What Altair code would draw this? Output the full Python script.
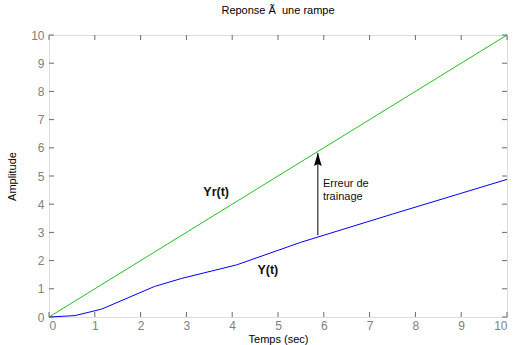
import altair as alt
import pandas as pd

# ---- data ----
ref_t = [0, 10]
ref_y = [0, 10]
resp_t = [0, 0.57, 1.15, 2.3, 2.9, 4.1, 5.5, 7.5, 10]
resp_y = [0, 0.05, 0.28, 1.08, 1.37, 1.85, 2.65, 3.65, 4.88]
tick_vals = [0, 1, 2, 3, 4, 5, 6, 7, 8, 9, 10]
arrow_x = [5.87]
arrow_y0 = [2.9]
arrow_y1 = [5.82]
labels_text = ["Yr(t)", "Y(t)"]
labels_x = [3.37, 4.55]
labels_y = [4.43, 1.66]
err_text = ["Erreur de\ntrainage"]
err_x = [5.98]
err_y = [4.6]

FONT = "Liberation Sans"
GRAY = "#808080"
FRAME = "#6a6a6a"
W, H = 458, 282

xs = alt.Scale(domain=[0, 10], nice=False)
ys = alt.Scale(domain=[0, 10], nice=False)

xax = alt.Axis(values=tick_vals, grid=False, domain=False, ticks=False,
               labelColor=GRAY, labelFontSize=12, labelFont=FONT, labelPadding=3,
               labelOverlap=False,
               title="Temps (sec)", titleFont=FONT, titleFontSize=11,
               titleFontWeight="normal", titleColor="#000",
               titleY=22, titleBaseline="middle")
yax = alt.Axis(values=tick_vals, grid=False, domain=False, ticks=False,
               labelColor=GRAY, labelFontSize=12, labelFont=FONT, labelPadding=5,
               labelOverlap=False,
               title="Amplitude", titleFont=FONT, titleFontSize=11,
               titleFontWeight="normal", titleColor="#000", titlePadding=13)


def X(f):
    return alt.X(f, scale=xs, axis=xax, title="Temps (sec)")


def Y(f):
    return alt.Y(f, scale=ys, axis=yax, title="Amplitude")


ref_df = pd.DataFrame({"t": ref_t, "y": ref_y})
resp_df = pd.DataFrame({"t": resp_t, "y": resp_y})
ticks_df = pd.DataFrame({"v": tick_vals})

ref_line = alt.Chart(ref_df).mark_line(color="#20c020", strokeWidth=1).encode(
    x=X("t:Q"), y=Y("y:Q"))
resp_line = alt.Chart(resp_df).mark_line(color="#0000ff", strokeWidth=1).encode(
    x=X("t:Q"), y=Y("y:Q"))

tk = 5
xt_bot = alt.Chart(ticks_df).mark_rule(color=FRAME).encode(
    x=X("v:Q"), y=alt.value(H), y2=alt.value(H - tk))
xt_top = alt.Chart(ticks_df).mark_rule(color=FRAME).encode(
    x=X("v:Q"), y=alt.value(0), y2=alt.value(tk))
yt_l = alt.Chart(ticks_df).mark_rule(color=FRAME).encode(
    y=Y("v:Q"), x=alt.value(0), x2=alt.value(tk))
yt_r = alt.Chart(ticks_df).mark_rule(color=FRAME).encode(
    y=Y("v:Q"), x=alt.value(W), x2=alt.value(W - tk))

arrow_df = pd.DataFrame({"x": arrow_x, "y0": arrow_y0, "y1": arrow_y1})
arrow_shaft = alt.Chart(arrow_df).mark_rule(color="#000", strokeWidth=1).encode(
    x=X("x:Q"), y=Y("y0:Q"), y2="y1:Q")
arrow_head = alt.Chart(arrow_df).mark_point(
    shape="M0,0 L0.6,2 L0,1.7 L-0.6,2 Z", size=169, filled=True,
    color="#000", opacity=1).encode(x=X("x:Q"), y=Y("y1:Q"))

lab_df = pd.DataFrame({"txt": labels_text, "x": labels_x, "y": labels_y})
labels = alt.Chart(lab_df).mark_text(
    font=FONT, fontSize=12.5, fontWeight="bold", align="left",
    baseline="middle", color="#111").encode(
    x=X("x:Q"), y=Y("y:Q"), text="txt:N")

err_df = pd.DataFrame({"txt": err_text, "x": err_x, "y": err_y})
err = alt.Chart(err_df).mark_text(
    font=FONT, fontSize=11, align="left", baseline="alphabetic",
    lineBreak="\n", lineHeight=13, color="#111").encode(
    x=X("x:Q"), y=Y("y:Q"), text="txt:N")

chart = alt.layer(
    ref_line, resp_line, xt_bot, xt_top, yt_l, yt_r,
    arrow_shaft, arrow_head, labels, err
).properties(
    width=W, height=H,
    title=alt.TitleParams("Reponse Ã\u00a0 une rampe", font=FONT, fontSize=11,
                          fontWeight="normal", color="#000", offset=13),
    autosize=alt.AutoSizeParams(type="none"),
    padding={"left": 49, "top": 35, "right": 7, "bottom": 28},
).configure_view(stroke=FRAME, strokeWidth=1.5).configure(background="white")

chart.save("out.html", embed_options={"renderer": "svg", "actions": False})
